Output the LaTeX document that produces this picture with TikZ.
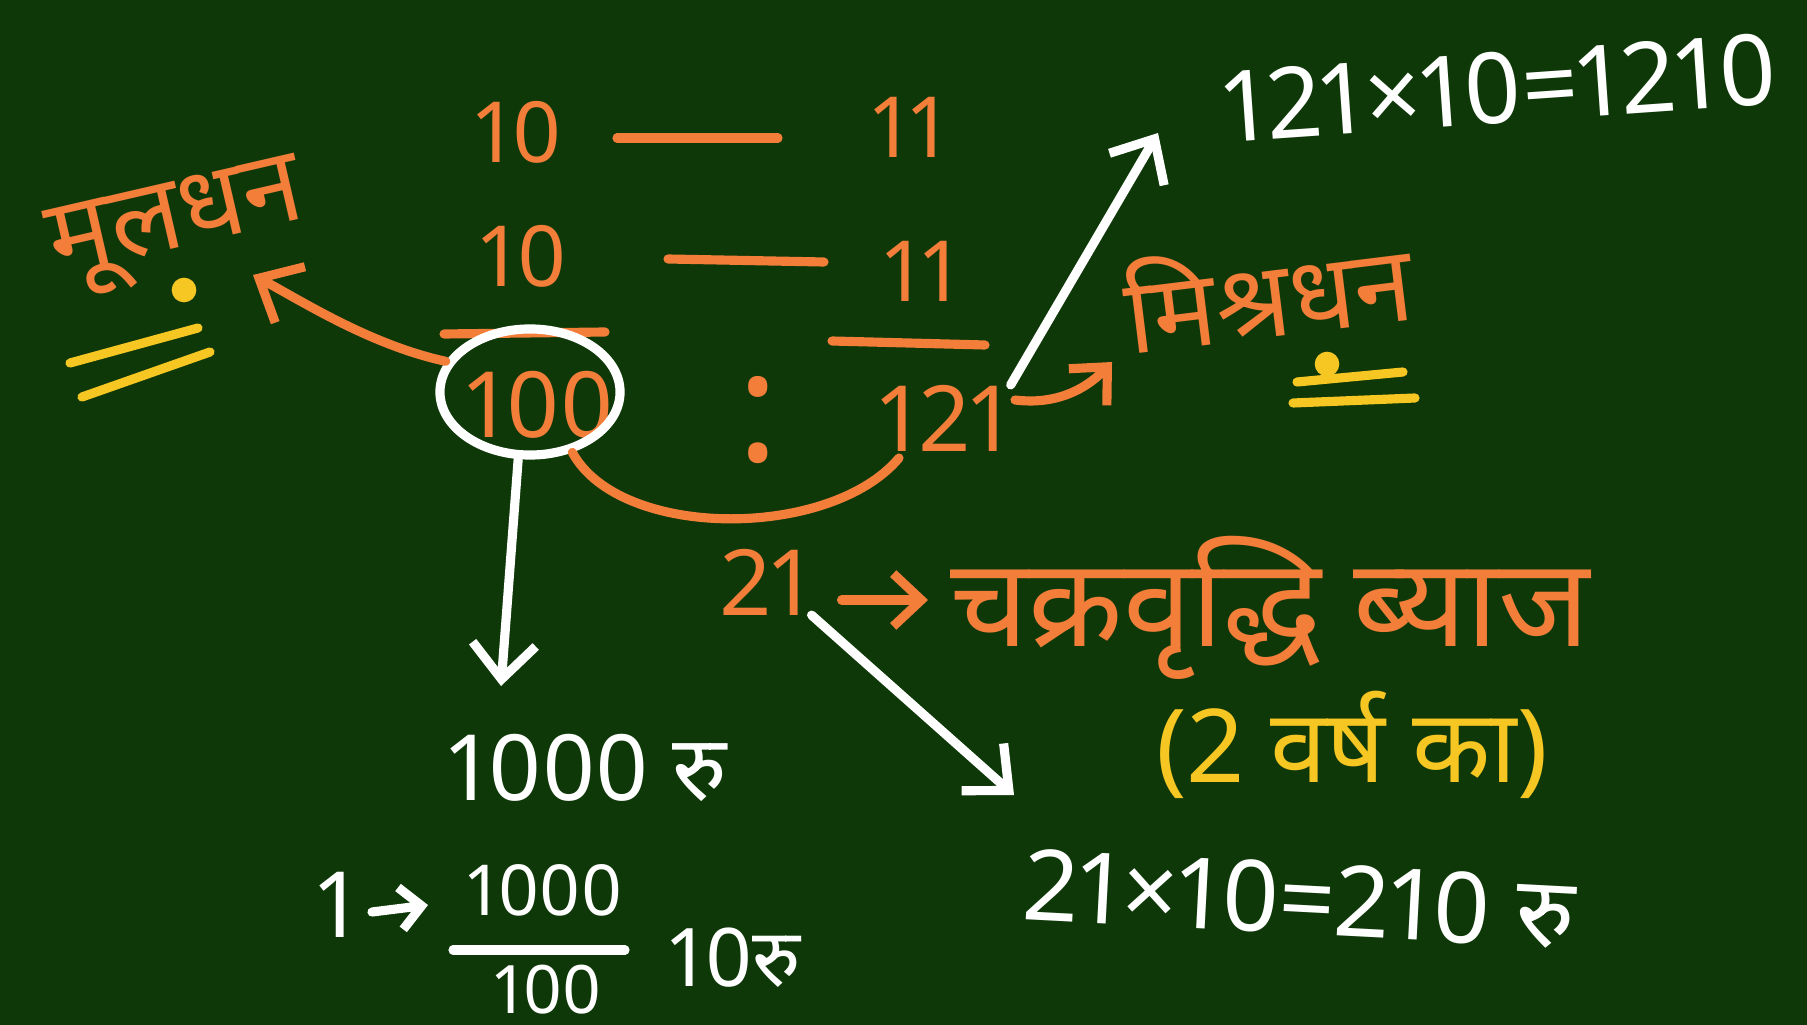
\documentclass[tikz,border=0pt]{standalone}
\usepackage{fontspec}
\setmainfont{Noto Sans}[Script=Devanagari,Numbers=Proportional]
\usetikzlibrary{arrows.meta,shapes.geometric}
\definecolor{board}{RGB}{15,56,9}
\definecolor{chorange}{RGB}{242,126,58}
\definecolor{chyellow}{RGB}{246,198,34}
\begin{document}
\begin{tikzpicture}[x=0.01cm,y=-0.01cm,
  base/.style={inner sep=0pt, outer sep=0pt},
  otxt/.style={base, text=chorange, font=\fontsize{26}{30}\selectfont},
  wtxt/.style={base, text=white, font=\fontsize{28}{32}\selectfont},
  ytxt/.style={base, text=chyellow, font=\fontsize{29}{32}\selectfont},
  hindi/.style={font=\fontsize{30}{34}\selectfont},
  ostroke/.style={draw=chorange, line width=2.6pt, line cap=round, line join=round},
  wstroke/.style={draw=white, line width=2.6pt, line cap=round, line join=round},
  ystroke/.style={draw=chyellow, line width=2.6pt, line cap=round},
  barb/.style={-{Straight Barb[length=10pt,width=18pt]}},
]
\fill[board] (0,0) rectangle (1807,1025);
\useasboundingbox (0,0) rectangle (1807,1025);

% left label
\node[otxt,hindi,rotate=13] (mool) at (178,228) {मूलधन};
\fill[chyellow] (184,290) circle (3.5pt);
\draw[ystroke] (70,363) -- (198,328);
\draw[ystroke] (82,397) -- (210,352);

% ratio rows
\node[otxt,font=\fontsize{24}{28}\selectfont] (ta) at (519,132) {10};
\node[otxt,font=\fontsize{24}{28}\selectfont] (tb) at (910,127) {11};
\node[otxt,font=\fontsize{24}{28}\selectfont] (ma) at (524,256) {10};
\node[otxt,font=\fontsize{24}{28}\selectfont] (mb) at (922,271) {11};
\draw[ostroke] (617,138) -- (778,138);
\draw[ostroke] (668,259) -- (824,262);
\draw[ostroke] (444,334) -- (605,332);
\draw[ostroke] (832,341) -- (985,345);
\node[otxt] (hund) at (540,405) {100};
\node[draw=white, line width=2.6pt, ellipse, minimum width=1.8cm, minimum height=1.26cm, inner sep=0pt] (ring) at (530,392) {};
\node[otxt,font=\fontsize{44}{48}\selectfont] (colon) at (758,420) {:};
\node[otxt] (oto) at (945,418) {121};

% principal arrow
\coordinate (mtip) at (253,275);
\draw[ostroke,barb] (ring.160) .. controls (370,345) and (300,300) .. (mtip);

% interest curve
\draw[ostroke] (ring.-55) .. controls (620,540) and (830,540) .. (899,458);
\node[otxt] (two) at (766,582) {21};
\node[otxt,font=\fontsize{35}{40}\selectfont] (chak) at (1270,608) {चक्रवृद्धि ब्याज};
\coordinate (chakin) at (928,600);
\draw[ostroke,-{Straight Barb[length=8pt,width=15pt]}] ([xshift=0.3cm]two.east |- chakin) -- (chakin);
\node[ytxt] (varsh) at (1352,745) {(2 वर्ष का)};

% amount
\node[otxt,hindi,rotate=7] (mishra) at (1268,290) {मिश्रधन};
\coordinate (mstart) at (1015,400);
\coordinate (mtipB) at (1112,362);
\draw[ostroke,-{Straight Barb[length=8pt,width=15pt]}] (mstart) .. controls (1055,405) and (1085,390) .. (mtipB);
\fill[chyellow] (1327,364) circle (3.5pt);
\draw[ystroke] (1297,382) -- (1403,372);
\draw[ystroke] (1293,403) -- (1415,398);

% 1210
\node[wtxt,rotate=4] (eq1) at (1500,88) {121×10=1210};
\coordinate (tipB) at (1158,133);
\draw[wstroke,barb] (oto.north east) -- (tipB);

% 1000
\coordinate (tipA) at (501,686);
\draw[wstroke,barb] (ring.-100) -- (tipA);
\node[wtxt,font=\fontsize{26}{30}\selectfont] (thou) at (588,768) {1000 रु};
\node[wtxt,font=\fontsize{26}{30}\selectfont] (one) at (338,905) {1};
\coordinate (arA) at (372,912);
\coordinate (arB) at (428,905);
\draw[wstroke,-{Straight Barb[length=6pt,width=12pt]}] (arA) -- (arB);
\node[wtxt,font=\fontsize{20}{22}\selectfont] (num) at (545,890) {1000};
\draw[wstroke] (453,950) -- (625,950);
\node[wtxt,font=\fontsize{19}{22}\selectfont] (den) at (548,990) {100};
\node[wtxt,font=\fontsize{23}{26}\selectfont] (ten) at (735,958) {10रु};

% 210
\coordinate (tipC) at (1014,795);
\draw[wstroke,barb] (two.south east) -- (tipC);
\node[wtxt,rotate=-3] (eq2) at (1300,899) {21×10=210 रु};
\end{tikzpicture}
\end{document}
